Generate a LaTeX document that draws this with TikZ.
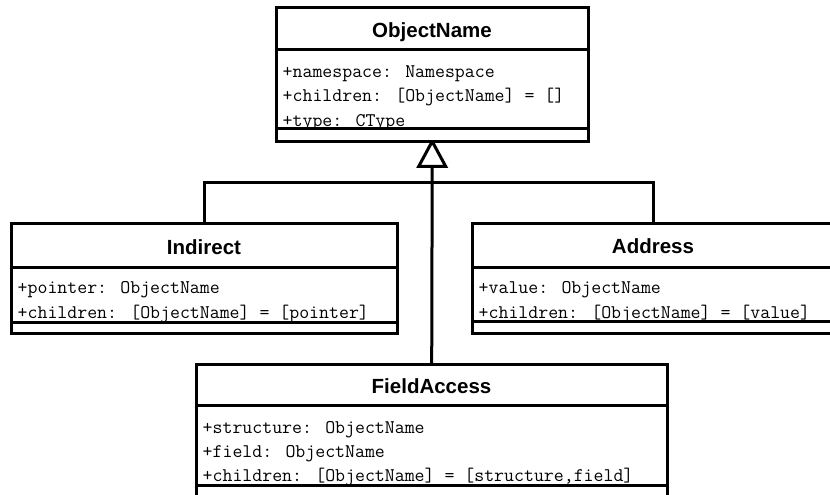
\documentclass[tikz,border=0pt]{standalone}
\usepackage{fontspec}
\setmainfont{Liberation Sans}
\begin{document}
\begin{tikzpicture}[x=1pt,y=-1pt,
  classbox/.style={fill=white, inner sep=0pt, anchor=north west},
  outline/.style={line width=3pt},
  ctitle/.style={font=\fontsize{20.5}{24}\selectfont\bfseries, anchor=base, inner sep=0pt},
  attr/.style={font=\fontsize{19.3}{22}\selectfont\ttfamily, anchor=base west, inner sep=0pt},
  sepline/.style={line width=3pt},
  conn/.style={line width=3pt},
  inherit/.style={line width=3pt, fill=white, line join=miter}]
\useasboundingbox (0,0) rectangle (830,495);
\clip (0,0) rectangle (830,495);

% ---------- boxes ----------
\node[classbox, minimum width=312pt, minimum height=133pt] (on) at (276,8) {};
\node[classbox, minimum width=386pt, minimum height=110pt] (ind) at (11,223) {};
\node[classbox, minimum width=362pt, minimum height=109.5pt] (adr) at (472,223.5) {};
\node[classbox, minimum width=471pt, minimum height=134pt] (fa) at (196,364) {};

% ---------- connectors ----------
\coordinate (abase) at ([yshift=-25pt]on.south);
\coordinate (hub) at (432,182);
\draw[conn] (ind.north) |- (hub) -| (adr.north);
\draw[conn] (fa.north) -- (abase);
\draw[inherit] (on.south) -- ([xshift=-13.5pt]abase) -- ([xshift=13.5pt]abase) -- cycle;

% ---------- ObjectName ----------
\node[ctitle] (ont) at (432,37.5) {ObjectName};
\node[attr] (on1) at (282.5,77.5) {+namespace: Namespace};
\node[attr] (on2) at (282.5,102) {+children: [ObjectName] = []};
\node[attr] (on3) at (282.5,126.5) {+type: CType};
\fill[white] (on.west |- 0,128) rectangle (on.south east);
\draw[sepline] (on.west |- 0,50) -- (on.east |- 0,50);
\draw[sepline] (on.west |- 0,128) -- (on.east |- 0,128);
\draw[outline] (on.north west) rectangle (on.south east);

% ---------- Indirect ----------
\node[ctitle] (indt) at (204,254) {Indirect};
\node[attr] (ind1) at (17.5,293) {+pointer: ObjectName};
\node[attr] (ind2) at (17.5,318) {+children: [ObjectName] = [pointer]};
\fill[white] (ind.west |- 0,322) rectangle (ind.south east);
\draw[sepline] (ind.west |- 0,267) -- (ind.east |- 0,267);
\draw[sepline] (ind.west |- 0,322) -- (ind.east |- 0,322);
\draw[outline] (ind.north west) rectangle (ind.south east);

% ---------- Address ----------
\node[ctitle] (adrt) at (653,253.5) {Address};
\node[attr] (adr1) at (478.5,293) {+value: ObjectName};
\node[attr] (adr2) at (478.5,318) {+children: [ObjectName] = [value]};
\fill[white] (adr.west |- 0,321.5) rectangle (adr.south east);
\draw[sepline] (adr.west |- 0,267) -- (adr.east |- 0,267);
\draw[sepline] (adr.west |- 0,321.5) -- (adr.east |- 0,321.5);
\draw[outline] (adr.north west) rectangle (adr.south east);

% ---------- FieldAccess ----------
\node[ctitle] (fat) at (431.5,393) {FieldAccess};
\node[attr] (fa1) at (202.5,433) {+structure: ObjectName};
\node[attr] (fa2) at (202.5,457) {+field: ObjectName};
\node[attr] (fa3) at (202.5,481) {+children: [ObjectName] = [structure,field]};
\fill[white] (fa.west |- 0,485) rectangle (fa.south east);
\draw[sepline] (fa.west |- 0,405) -- (fa.east |- 0,405);
\draw[sepline] (fa.west |- 0,485) -- (fa.east |- 0,485);
\draw[outline] (fa.north west) rectangle (fa.south east);
\end{tikzpicture}
\end{document}
